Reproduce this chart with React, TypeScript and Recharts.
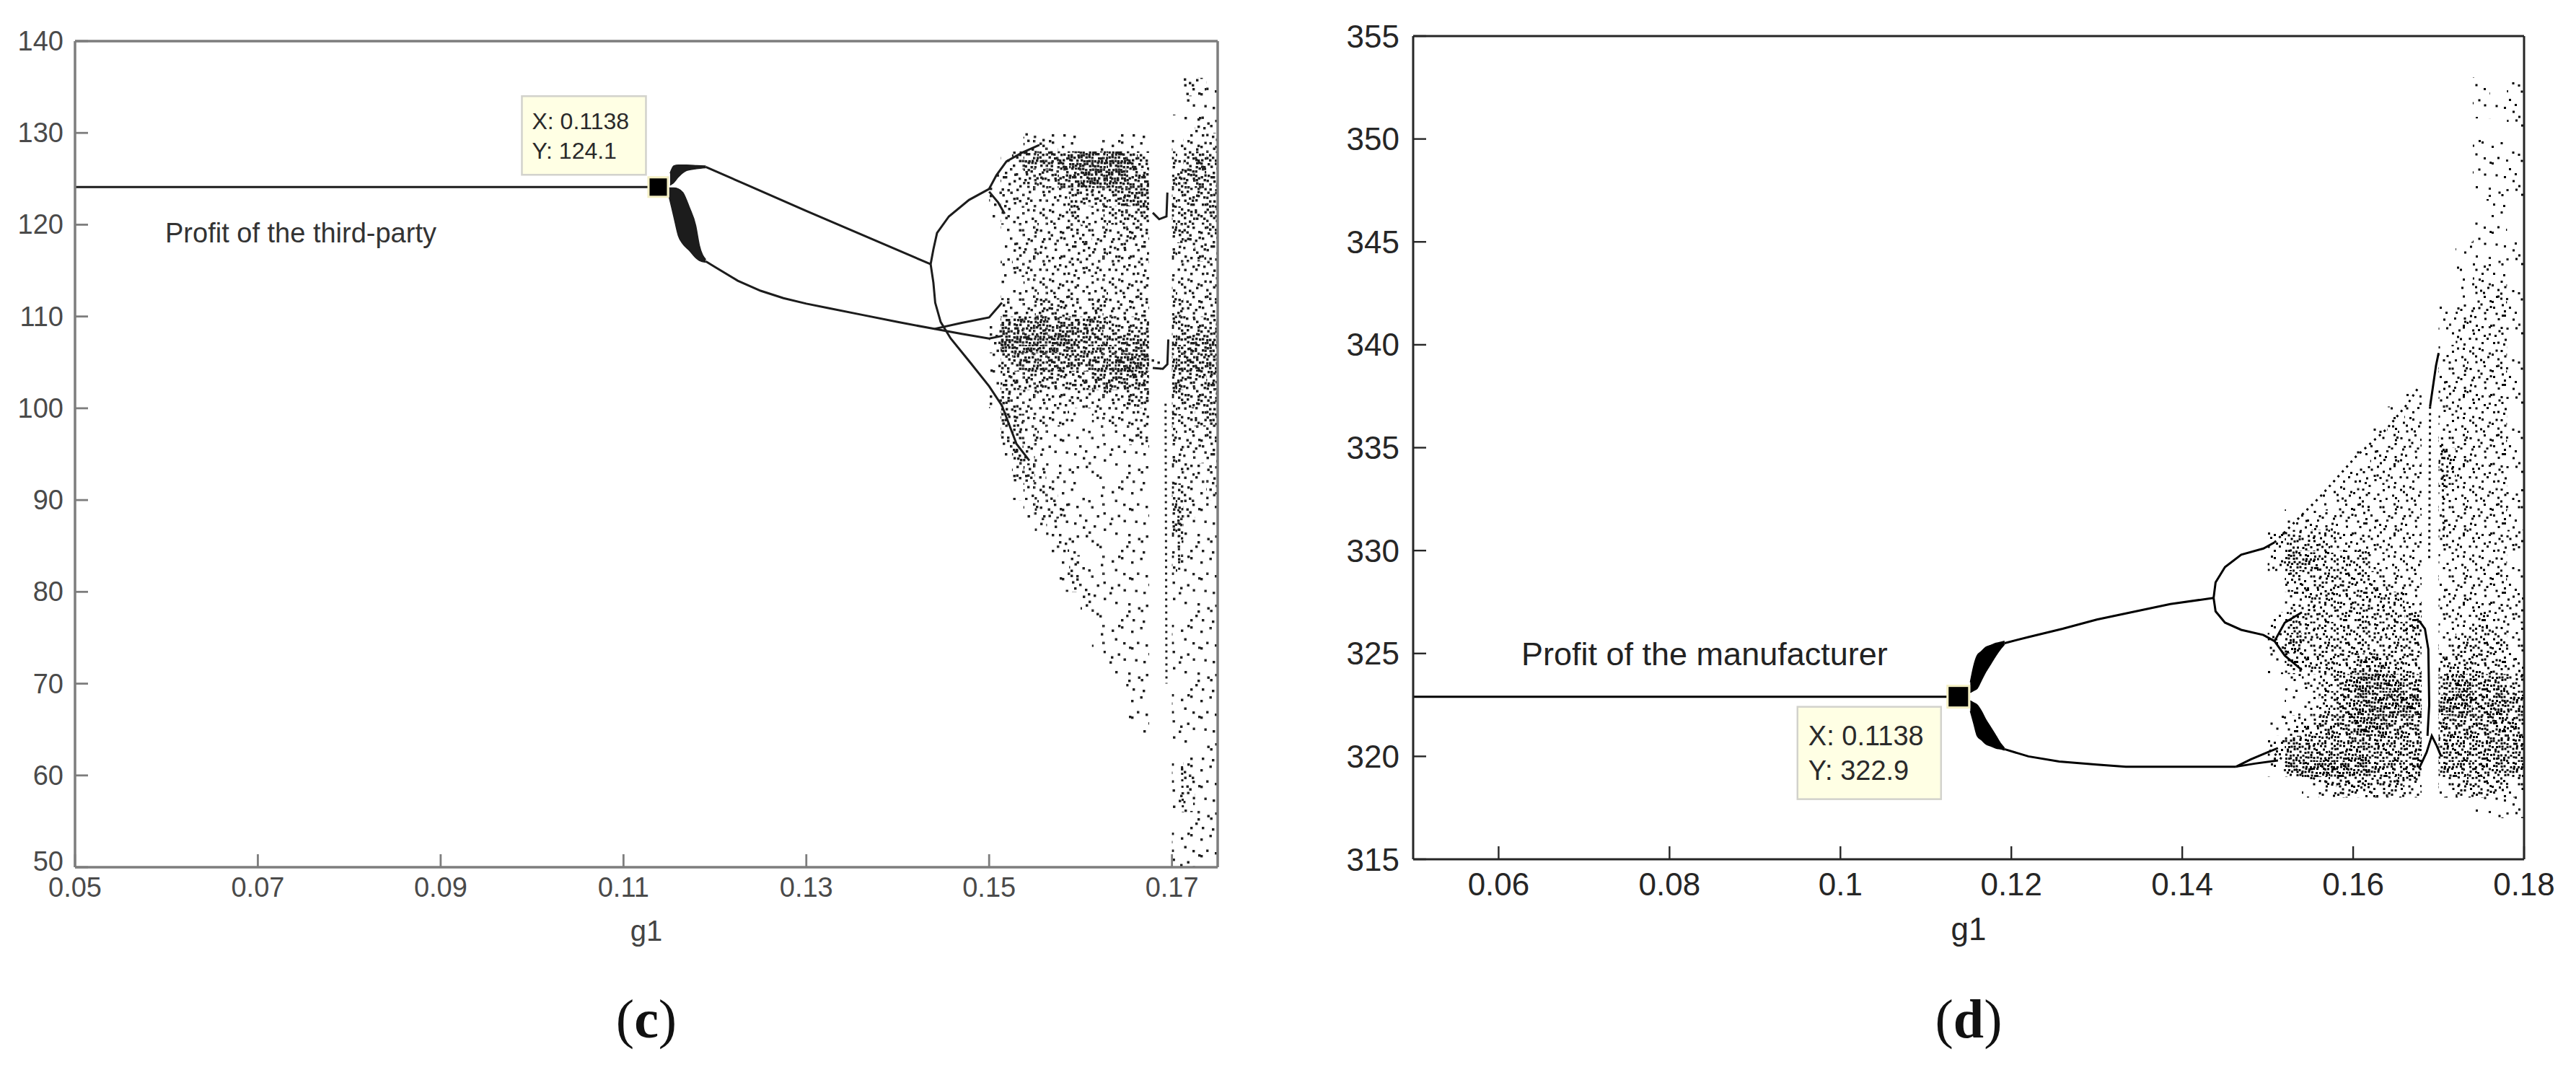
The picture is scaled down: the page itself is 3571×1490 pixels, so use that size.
import React from "react";
import { Area, ComposedChart, Line, ReferenceArea, ReferenceDot, XAxis, YAxis } from "recharts";

type Pt = [number, number];
type Band = [number, number, number];

// ---------- panel (c): profit of the third-party ----------
const C_X_TICKS = [0.05, 0.07, 0.09, 0.11, 0.13, 0.15, 0.17];
const C_Y_TICKS = [50, 60, 70, 80, 90, 100, 110, 120, 130, 140];
const C_TIP = { x: 0.1138, y: 124.1 };

const C_FLAT: Pt[] = [[0.05, 124.1], [0.1138, 124.1]];
const C_UPPER: Pt[] = [[0.119, 126.3], [0.13, 121.5], [0.1436, 115.7]];
const C_LOWER: Pt[] = [
  [0.119, 116.0], [0.12, 115.4], [0.1225, 113.9], [0.125, 112.8], [0.1275, 112.0],
  [0.13, 111.4], [0.1325, 110.9], [0.136, 110.2], [0.14, 109.4], [0.144, 108.65],
];
const C_ARC_UP: Pt[] = [
  [0.1436, 115.7], [0.1439, 117.3], [0.1443, 119.1], [0.1456, 120.9], [0.1478, 122.7],
  [0.15, 123.9], [0.1508, 125.4], [0.1519, 126.9], [0.1536, 127.85], [0.1555, 128.7],
];
const C_ARC_DOWN: Pt[] = [
  [0.1436, 115.7], [0.1439, 113.7], [0.1441, 111.5], [0.1447, 109.4], [0.1458, 107.6],
  [0.148, 104.9], [0.15, 102.4], [0.1514, 100.3], [0.153, 96.1], [0.1544, 94.3],
];
const C_SPLIT_UP: Pt[] = [[0.144, 108.65], [0.147, 109.3], [0.15, 109.9], [0.1514, 111.5]];
const C_SPLIT_DOWN: Pt[] = [[0.144, 108.65], [0.147, 108.1], [0.15, 107.6], [0.1515, 107.9]];
const C_INNER: Pt[] = [[0.15, 123.6], [0.151, 122.4], [0.1517, 121.2]];
const C_WIN_TOP: Pt[] = [[0.1679, 121.3], [0.1686, 120.6], [0.1694, 120.9], [0.1695, 123.5]];
const C_WIN_MID: Pt[] = [[0.1679, 104.4], [0.169, 104.3], [0.1695, 104.8], [0.1696, 107.5]];
const C_WIN_DOTS: Pt[] = [[0.1693, 100.5], [0.1694, 70.0]];
const C_STRIP_A: Pt[] = [[0.1707, 89.0], [0.1708, 82.0]];
const C_STRIP_B: Pt[] = [[0.1711, 61.0], [0.1712, 56.0]];

// fans right after the first bifurcation: [x, low, high]
const C_FAN_UP: Band[] = [
  [0.1151, 124.3, 125.6], [0.1155, 124.6, 126.4], [0.116, 125.2, 126.5],
  [0.1169, 125.9, 126.5], [0.118, 126.1, 126.45], [0.119, 126.2, 126.4],
];
const C_FAN_LOW: Band[] = [
  [0.115, 123.0, 124.0], [0.1155, 120.9, 124.0], [0.116, 118.8, 123.9], [0.1165, 117.9, 123.5],
  [0.1172, 117.2, 121.9], [0.1179, 116.4, 119.9], [0.1183, 116.1, 117.75], [0.119, 115.9, 116.2],
];

// chaotic cloud, read as density 0-5 per cell: columns from x=0.150 step 0.00125,
// rows from y=136 downwards step 2
const C_CLOUD = [
  "00000000000000000221", // 134-136
  "00000000000000000111",
  "00000000000000001121",
  "00122211111111001222", // 128
  "01344445555543002343",
  "12233344555544003443",
  "12222223333444003333",
  "12222223223333003333", // 120
  "01222222322232003323",
  "01222222222322002232",
  "01222222222222002222",
  "01122222222222002222",
  "02223332232222003222", // 110
  "14445444443333003333",
  "25555554444444104444",
  "13444444444555104444",
  "13333333344444004334",
  "13222222222233003333", // 100
  "03322221122222003233",
  "02322111111122002222",
  "01321111111111002222",
  "00232111111111002212",
  "00122211111111003212", // 90
  "00012221111111003211",
  "00001211111111003111",
  "00000121111111002111",
  "00000012111111002111",
  "00000012111111001111", // 80
  "00000000211111001111",
  "00000000111111001111",
  "00000000011111001111",
  "00000000001111001111",
  "00000000000111001111", // 70
  "00000000000011001111",
  "00000000000011001111",
  "00000000000001001111",
  "00000000000000001101",
  "00000000000000001211", // 60
  "00000000000000001211",
  "00000000000000001211",
  "00000000000000001111",
  "00000000000000001111",
  "00000000000000001111", // 50
];

// ---------- panel (d): profit of the manufacturer ----------
const D_X_TICKS = [0.06, 0.08, 0.1, 0.12, 0.14, 0.16, 0.18];
const D_Y_TICKS = [315, 320, 325, 330, 335, 340, 345, 350, 355];
const D_TIP = { x: 0.1138, y: 322.9 };

const D_FLAT: Pt[] = [[0.05, 322.9], [0.1138, 322.9]];
const D_UPPER: Pt[] = [
  [0.1192, 325.5], [0.122, 325.8], [0.126, 326.2], [0.13, 326.65],
  [0.134, 327.0], [0.1386, 327.4], [0.14367, 327.7],
];
const D_LOWER: Pt[] = [
  [0.1192, 320.35], [0.122, 320.0], [0.1256, 319.75], [0.13, 319.6],
  [0.1334, 319.5], [0.14, 319.5], [0.1463, 319.5],
];
const D_LOOP_UP: Pt[] = [
  [0.14367, 327.7], [0.1439, 328.45], [0.145, 329.2], [0.1469, 329.8], [0.1495, 330.1], [0.1508, 330.4],
];
const D_LOOP_DOWN: Pt[] = [
  [0.14367, 327.7], [0.1439, 327.05], [0.145, 326.5], [0.1469, 326.15], [0.1495, 325.9], [0.1508, 325.6],
];
const D_LOW_A: Pt[] = [[0.1463, 319.5], [0.148, 319.85], [0.15, 320.2], [0.1512, 320.4]];
const D_LOW_B: Pt[] = [[0.1463, 319.5], [0.1485, 319.65], [0.1512, 319.8]];
const D_SPLIT_A: Pt[] = [[0.1508, 325.6], [0.152, 326.5], [0.154, 327.0]];
const D_SPLIT_B: Pt[] = [[0.1508, 325.6], [0.152, 324.9], [0.154, 324.2]];
const D_WIN_SLANT: Pt[] = [[0.169, 337.0], [0.1697, 339.0], [0.17, 339.6]];
const D_WIN_MID: Pt[] = [[0.1677, 326.6], [0.1684, 326.2], [0.1688, 325.2], [0.1689, 322.5], [0.1687, 321.0]];
const D_WIN_LOW: Pt[] = [[0.1677, 319.4], [0.1686, 320.2], [0.1692, 321.0], [0.1698, 320.5], [0.1703, 320.0]];
const D_TOP_EDGE: Pt[] = [[0.1508, 330.4], [0.1561, 332.6], [0.1604, 334.6], [0.1639, 335.9], [0.1665, 337.2], [0.1676, 337.9]];
const D_BOTTOM_EDGE: Pt[] = [[0.1502, 320.3], [0.1539, 319.2], [0.1561, 318.8], [0.1604, 318.55], [0.1647, 318.8], [0.1677, 318.9]];
const D_WIN_DOTS: Pt[] = [[0.169, 337.0], [0.1689, 329.5]];
const D_RIGHT_VERT: Pt[] = [[0.1704, 335.5], [0.1706, 330.5]];

const D_FAN_UP: Band[] = [
  [0.1152, 323.1, 323.6], [0.1156, 323.2, 324.4], [0.116, 323.3, 324.9], [0.1165, 323.7, 325.1],
  [0.117, 324.1, 325.3], [0.1176, 324.5, 325.4], [0.1182, 324.9, 325.5], [0.1188, 325.25, 325.55],
  [0.1192, 325.45, 325.6],
];
const D_FAN_LOW: Band[] = [
  [0.1152, 322.2, 322.7], [0.1156, 321.6, 322.6], [0.116, 321.0, 322.5], [0.1165, 320.8, 322.2],
  [0.117, 320.6, 321.8], [0.1176, 320.5, 321.4], [0.1182, 320.4, 321.0], [0.1188, 320.35, 320.6],
  [0.1192, 320.3, 320.4],
];

// columns from x=0.150 step 0.002, rows from y=353 downwards step 1
const D_CLOUD = [
  "000000000000101", // 352-353
  "000000000000111",
  "000000000000001",
  "000000000000111",
  "000000000000111",
  "000000000000111",
  "000000000000010",
  "000000000000110", // 345
  "000000000001111",
  "000000000001211",
  "000000000001221",
  "000000000012221",
  "000000000012221", // 340
  "000000000022221",
  "000000000022221",
  "000000001022221",
  "000000012022221",
  "000000122022221", // 335
  "000001222032221",
  "000012222032221",
  "000122222022222",
  "012222222022221",
  "233322222022222", // 330
  "244333222022221",
  "033333322022221",
  "023333332022222",
  "133333334022322",
  "243333333023332", // 325
  "133334433033332",
  "012345554045443",
  "012345555055454",
  "123445544044444",
  "244444444044444", // 320
  "145555444044444",
  "001233332023332",
  "000000000000111", // 317-318
];

// ---------- stipple texture for the dot clouds ----------
const PERM = [
  37, 12, 55, 3, 28, 46, 19, 61, 8, 50, 23, 41, 0, 33, 14, 58,
  44, 2, 31, 60, 17, 52, 39, 6, 26, 63, 10, 35, 48, 21, 5, 57,
  15, 40, 53, 24, 9, 62, 30, 43, 59, 18, 1, 47, 36, 11, 54, 27,
  32, 49, 42, 13, 56, 4, 22, 38, 7, 29, 20, 51, 34, 45, 16, 25,
];
const JIT = [0, 1.5, 0.5, 2, 0, 1, 2, 0.5, 1.5, 0, 2, 1, 0.5, 1.5, 0, 2];
const LEVEL_RANK = [0, 5, 13, 24, 38, 54];
const TEXTURE: { x: number; y: number; rank: number }[] = [];
for (let j = 0; j < 24; j++) {
  for (let i = 0; i < 24; i++) {
    const base = PERM[((j & 7) << 3) | (i & 7)];
    const rank = (base + 23 * ((i >> 3) + 3 * (j >> 3))) & 63;
    TEXTURE.push({ x: i * 4 + JIT[(i * 5 + j * 11) % 16], y: j * 4 + JIT[(i * 7 + j * 3 + 5) % 16], rank });
  }
}

function DotPatterns({ prefix, color, dot }: { prefix: string; color: string; dot: number }) {
  return (
    <svg width={1} height={1} style={{ position: "absolute", left: 0, top: 0 }}>
      <defs>
        {[1, 2, 3, 4, 5].map((lv) => (
          <pattern key={lv} id={`${prefix}${lv}`} width={96} height={96} patternUnits="userSpaceOnUse">
            {TEXTURE.filter((t) => t.rank < LEVEL_RANK[lv]).map((t, k) => (
              <rect key={k} x={t.x} y={t.y} width={dot} height={dot} fill={color} />
            ))}
          </pattern>
        ))}
      </defs>
    </svg>
  );
}

const toXY = (pts: Pt[]) => pts.map(([x, y]) => ({ x, y }));
const toBand = (pts: Band[]) => pts.map(([x, lo, hi]) => ({ x, r: [lo, hi] }));

function buildCells(rows: string[], x0: number, dx: number, yTop: number, dy: number) {
  const out: { x1: number; x2: number; y1: number; y2: number; d: number }[] = [];
  rows.forEach((row, r) => {
    for (let c = 0; c < row.length; c++) {
      const d = Number(row[c]);
      if (!d) continue;
      out.push({ x1: x0 + c * dx, x2: x0 + (c + 1) * dx, y1: yTop - (r + 1) * dy, y2: yTop - r * dy, d });
    }
  });
  return out;
}

type TipCfg = {
  label: [string, string];
  size: number;
  boxW: number;
  boxH: number;
  dx: number; // box left relative to marker centre
  dy: number; // box top relative to marker centre
  font: number;
  line1: number;
  line2: number;
  pad: number;
};

function DataTip({ cx, cy, tip }: { cx: number; cy: number; tip: TipCfg }) {
  const bx = cx + tip.dx;
  const by = cy + tip.dy;
  return (
    <g>
      <rect x={bx} y={by} width={tip.boxW} height={tip.boxH} fill="#ffffe4" stroke="#d2d2cc" strokeWidth={2.5} />
      <text x={bx + tip.pad} y={by + tip.line1} dominantBaseline="central" fontSize={tip.font} fill="#2a2a2a" fontFamily='"Liberation Sans", Arial, sans-serif'>
        {tip.label[0]}
      </text>
      <text x={bx + tip.pad} y={by + tip.line2} dominantBaseline="central" fontSize={tip.font} fill="#2a2a2a" fontFamily='"Liberation Sans", Arial, sans-serif'>
        {tip.label[1]}
      </text>
      <rect x={cx - tip.size / 2} y={cy - tip.size / 2} width={tip.size} height={tip.size} fill="#000" stroke="#f4efc4" strokeWidth={3} />
    </g>
  );
}

type PanelCfg = {
  width: number;
  height: number;
  margin: { top: number; right: number; bottom: number; left: number };
  xDomain: [number, number];
  yDomain: [number, number];
  xTicks: number[];
  yTicks: number[];
  fmtX: (v: number) => string;
  axisColor: string;
  axisW: number;
  tickColor: string;
  font: number;
  xMargin: number;
  yMargin: number;
  lowLift: number; // lift of the lowest y label, keeps it off the first x label
  lineColor: string;
  lineW: number;
  lines: Pt[][];
  dotted: Pt[][];
  fans: Band[][];
  cells: ReturnType<typeof buildCells>;
  pattern: string;
  tipAt: { x: number; y: number };
  tip: TipCfg;
};

function Panel({ cfg }: { cfg: PanelCfg }) {
  const axisLine = { stroke: cfg.axisColor, strokeWidth: cfg.axisW };
  const tickLine = { stroke: cfg.axisColor, strokeWidth: cfg.axisW * 0.8 };
  const family = '"Liberation Sans", Arial, sans-serif';
  const tick = { fill: cfg.tickColor, fontSize: cfg.font, fontFamily: family };
  const yTick = (p: any) => (
    <text
      x={p.x} y={p.y - (p.payload.value === cfg.yDomain[0] ? cfg.lowLift : 0)} textAnchor="end"
      dominantBaseline="central" fill={cfg.tickColor} fontSize={cfg.font} fontFamily={family}
    >
      {p.payload.value}
    </text>
  );
  return (
    <ComposedChart width={cfg.width} height={cfg.height} margin={cfg.margin}>
      <XAxis
        type="number" dataKey="x" domain={cfg.xDomain} allowDataOverflow ticks={cfg.xTicks} interval={0}
        tickFormatter={cfg.fmtX} height={80} tickSize={-18} tickMargin={cfg.xMargin}
        axisLine={axisLine} tickLine={tickLine} tick={tick}
      />
      <XAxis
        xAxisId="top" orientation="top" type="number" domain={cfg.xDomain} allowDataOverflow ticks={cfg.xTicks}
        interval={0} height={1} tickSize={-18} tick={false} axisLine={axisLine} tickLine={tickLine}
      />
      <YAxis
        type="number" domain={cfg.yDomain} allowDataOverflow ticks={cfg.yTicks} interval={0} width={100}
        tickSize={-18} tickMargin={cfg.yMargin} axisLine={axisLine} tickLine={tickLine} tick={yTick}
      />
      <YAxis
        yAxisId="right" orientation="right" type="number" domain={cfg.yDomain} allowDataOverflow ticks={cfg.yTicks}
        interval={0} width={1} tickSize={-18} tick={false} axisLine={axisLine} tickLine={tickLine}
      />
      {cfg.cells.map((c, k) => (
        <ReferenceArea
          key={`c${k}`} x1={c.x1} x2={c.x2} y1={c.y1} y2={c.y2}
          fill={`url(#${cfg.pattern}${c.d})`} fillOpacity={1} stroke="none" ifOverflow="visible"
        />
      ))}
      {cfg.fans.map((f, k) => (
        <Area
          key={`f${k}`} data={toBand(f)} dataKey="r" type="monotone" fill={cfg.lineColor} fillOpacity={1}
          stroke={cfg.lineColor} strokeWidth={1.5} dot={false} activeDot={false} isAnimationActive={false}
        />
      ))}
      {cfg.lines.map((p, k) => (
        <Line
          key={`l${k}`} data={toXY(p)} dataKey="y" type="linear" stroke={cfg.lineColor} strokeWidth={cfg.lineW}
          dot={false} activeDot={false} isAnimationActive={false}
        />
      ))}
      {cfg.dotted.map((p, k) => (
        <Line
          key={`d${k}`} data={toXY(p)} dataKey="y" type="linear" stroke={cfg.lineColor} strokeWidth={3}
          strokeDasharray="3 6" dot={false} activeDot={false} isAnimationActive={false}
        />
      ))}
      <ReferenceDot
        x={cfg.tipAt.x} y={cfg.tipAt.y} r={10} ifOverflow="visible"
        shape={(p: any) => <DataTip cx={p.cx} cy={p.cy} tip={cfg.tip} />}
      />
    </ComposedChart>
  );
}

// plot box (c): 104..1688 x 57..1202 ; plot box (d): 1959..3499 x 50..1191
const PANEL_C: PanelCfg = {
  width: 1780,
  height: 1290,
  margin: { top: 56, right: 91, bottom: 8, left: 4 },
  xDomain: [0.05, 0.175],
  yDomain: [50, 140],
  xTicks: C_X_TICKS,
  yTicks: C_Y_TICKS,
  fmtX: (v) => v.toFixed(2),
  axisColor: "#7d7d7d",
  axisW: 3.5,
  tickColor: "#4a4a4a",
  font: 38,
  xMargin: 32,
  yMargin: 34,
  lowLift: 8,
  lineColor: "#1c1c1c",
  lineW: 3,
  lines: [C_FLAT, C_UPPER, C_LOWER, C_ARC_UP, C_ARC_DOWN, C_SPLIT_UP, C_SPLIT_DOWN, C_INNER, C_WIN_TOP, C_WIN_MID],
  dotted: [C_WIN_DOTS, C_STRIP_A, C_STRIP_B],
  fans: [C_FAN_UP, C_FAN_LOW],
  cells: buildCells(C_CLOUD, 0.15, 0.00125, 136, 2),
  pattern: "pc",
  tipAt: C_TIP,
  tip: {
    label: [`X: ${C_TIP.x}`, `Y: ${C_TIP.y}`],
    size: 27, boxW: 172, boxH: 109, dx: -189, dy: -126, font: 32, line1: 35, line2: 76, pad: 14,
  },
};

const PANEL_D: PanelCfg = {
  width: 1781,
  height: 1290,
  margin: { top: 49, right: 71, bottom: 19, left: 69 },
  xDomain: [0.05, 0.18],
  yDomain: [315, 355],
  xTicks: D_X_TICKS,
  yTicks: D_Y_TICKS,
  fmtX: (v) => String(Number(v.toFixed(2))),
  axisColor: "#262626",
  axisW: 3,
  tickColor: "#262626",
  font: 44,
  xMargin: 37,
  yMargin: 37,
  lowLift: 0,
  lineColor: "#000",
  lineW: 3,
  lines: [D_FLAT, D_UPPER, D_LOWER, D_LOOP_UP, D_LOOP_DOWN, D_LOW_A, D_LOW_B, D_SPLIT_A, D_SPLIT_B, D_WIN_SLANT, D_WIN_MID, D_WIN_LOW],
  dotted: [D_TOP_EDGE, D_BOTTOM_EDGE, D_WIN_DOTS, D_RIGHT_VERT],
  fans: [D_FAN_UP, D_FAN_LOW],
  cells: buildCells(D_CLOUD, 0.15, 0.002, 353, 1),
  pattern: "pd",
  tipAt: D_TIP,
  tip: {
    label: [`X: ${D_TIP.x}`, `Y: ${D_TIP.y}`],
    size: 30, boxW: 199, boxH: 128, dx: -223, dy: 14, font: 38, line1: 40, line2: 88, pad: 15,
  },
};

const sans = '"Liberation Sans", Arial, sans-serif';
const serif = '"Liberation Serif", "Times New Roman", serif';

function Txt({ x, y, size, color, family, children, anchor = "center" }: any) {
  return (
    <div
      style={{
        position: "absolute", left: x, top: y, fontSize: size, color, fontFamily: family, lineHeight: 1,
        whiteSpace: "nowrap", transform: anchor === "center" ? "translate(-50%,-50%)" : "translate(0,-50%)",
      }}
    >
      {children}
    </div>
  );
}

export default function App() {
  return (
    <div style={{ position: "relative", width: 3571, height: 1490, background: "#fff", overflow: "hidden" }}>
      <style>{"body{margin:0;background:#fff}"}</style>
      <DotPatterns prefix="pc" color="#1e1e1e" dot={3.4} />
      <DotPatterns prefix="pd" color="#000" dot={3} />
      <div style={{ position: "absolute", left: 0, top: 0 }}>
        <Panel cfg={PANEL_C} />
      </div>
      <div style={{ position: "absolute", left: 1790, top: 0 }}>
        <Panel cfg={PANEL_D} />
      </div>
      <Txt x={229} y={323} size={38} color="#333" family={sans} anchor="left">Profit of the third-party</Txt>
      <Txt x={2109} y={906} size={45} color="#222" family={sans} anchor="left">Profit of the manufacturer</Txt>
      <Txt x={896} y={1290} size={40} color="#444" family={sans}>g1</Txt>
      <Txt x={2729} y={1288} size={44} color="#262626" family={sans}>g1</Txt>
      <Txt x={896} y={1412} size={76} color="#111" family={serif}>(<b>c</b>)</Txt>
      <Txt x={2729} y={1412} size={76} color="#111" family={serif}>(<b>d</b>)</Txt>
    </div>
  );
}
